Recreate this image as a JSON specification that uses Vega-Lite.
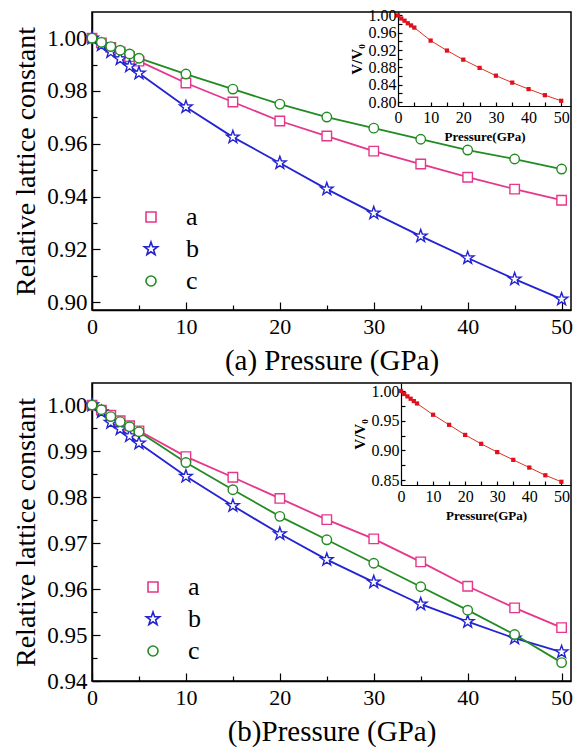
{
  "$schema": "https://vega.github.io/schema/vega-lite/v6.json",
  "padding": {"left": 11, "top": 6, "right": 0, "bottom": 0},
  "spacing": 6,
  "resolve": {"scale": {"stroke": "independent", "shape": "independent"}, "legend": {"stroke": "independent", "shape": "independent"}},
  "config": {
    "view": {"stroke": "black", "strokeWidth": 1.5},
    "font": "Liberation Serif, Times New Roman, serif",
    "legend": {"labelFont": "Liberation Serif, Times New Roman, serif"},
    "axis": {"grid": false, "domainColor": "black", "domainWidth": 1.5, "tickColor": "black", "tickWidth": 1.2, "labelColor": "black", "titleColor": "black", "labelFont": "Liberation Serif, Times New Roman, serif", "titleFont": "Liberation Serif, Times New Roman, serif", "titleFontWeight": "normal", "labelFlush": false, "labelOverlap": false}
  },
  "datasets": {
    "mainA": [
      {"p": 0, "s": "a", "v": 1.0}, {"p": 1, "s": "a", "v": 0.9982}, {"p": 2, "s": "a", "v": 0.9965}, {"p": 3, "s": "a", "v": 0.9948}, {"p": 4, "s": "a", "v": 0.993}, {"p": 5, "s": "a", "v": 0.9913}, {"p": 10, "s": "a", "v": 0.983}, {"p": 15, "s": "a", "v": 0.9758}, {"p": 20, "s": "a", "v": 0.9686}, {"p": 25, "s": "a", "v": 0.9629}, {"p": 30, "s": "a", "v": 0.9572}, {"p": 35, "s": "a", "v": 0.9523}, {"p": 40, "s": "a", "v": 0.9473}, {"p": 45, "s": "a", "v": 0.9428}, {"p": 50, "s": "a", "v": 0.9386},
      {"p": 0, "s": "b", "v": 1.0}, {"p": 1, "s": "b", "v": 0.9974}, {"p": 2, "s": "b", "v": 0.9948}, {"p": 3, "s": "b", "v": 0.9921}, {"p": 4, "s": "b", "v": 0.9894}, {"p": 5, "s": "b", "v": 0.9867}, {"p": 10, "s": "b", "v": 0.9739}, {"p": 15, "s": "b", "v": 0.9625}, {"p": 20, "s": "b", "v": 0.9527}, {"p": 25, "s": "b", "v": 0.9428}, {"p": 30, "s": "b", "v": 0.9337}, {"p": 35, "s": "b", "v": 0.925}, {"p": 40, "s": "b", "v": 0.9167}, {"p": 45, "s": "b", "v": 0.9087}, {"p": 50, "s": "b", "v": 0.9011},
      {"p": 0, "s": "c", "v": 1.0}, {"p": 1, "s": "c", "v": 0.9984}, {"p": 2, "s": "c", "v": 0.9968}, {"p": 3, "s": "c", "v": 0.9954}, {"p": 4, "s": "c", "v": 0.994}, {"p": 5, "s": "c", "v": 0.9924}, {"p": 10, "s": "c", "v": 0.9864}, {"p": 15, "s": "c", "v": 0.9807}, {"p": 20, "s": "c", "v": 0.975}, {"p": 25, "s": "c", "v": 0.9701}, {"p": 30, "s": "c", "v": 0.9659}, {"p": 35, "s": "c", "v": 0.9617}, {"p": 40, "s": "c", "v": 0.9576}, {"p": 45, "s": "c", "v": 0.9542}, {"p": 50, "s": "c", "v": 0.9504}
    ],
    "insetA": [
      {"p": 0, "v": 1.0}, {"p": 1, "v": 0.993}, {"p": 2, "v": 0.988}, {"p": 3, "v": 0.982}, {"p": 4, "v": 0.977}, {"p": 5, "v": 0.972}, {"p": 10, "v": 0.942}, {"p": 15, "v": 0.919}, {"p": 20, "v": 0.898}, {"p": 25, "v": 0.879}, {"p": 30, "v": 0.861}, {"p": 35, "v": 0.845}, {"p": 40, "v": 0.83}, {"p": 45, "v": 0.816}, {"p": 50, "v": 0.803}
    ],
    "mainB": [
      {"p": 0, "s": "a", "v": 1.0}, {"p": 1, "s": "a", "v": 0.9989}, {"p": 2, "s": "a", "v": 0.9978}, {"p": 3, "s": "a", "v": 0.9966}, {"p": 4, "s": "a", "v": 0.9955}, {"p": 5, "s": "a", "v": 0.9944}, {"p": 10, "s": "a", "v": 0.9888}, {"p": 15, "s": "a", "v": 0.9843}, {"p": 20, "s": "a", "v": 0.9797}, {"p": 25, "s": "a", "v": 0.9751}, {"p": 30, "s": "a", "v": 0.9709}, {"p": 35, "s": "a", "v": 0.9659}, {"p": 40, "s": "a", "v": 0.9606}, {"p": 45, "s": "a", "v": 0.9559}, {"p": 50, "s": "a", "v": 0.9516},
      {"p": 0, "s": "b", "v": 1.0}, {"p": 1, "s": "b", "v": 0.9985}, {"p": 2, "s": "b", "v": 0.9962}, {"p": 3, "s": "b", "v": 0.9948}, {"p": 4, "s": "b", "v": 0.9933}, {"p": 5, "s": "b", "v": 0.9917}, {"p": 10, "s": "b", "v": 0.9845}, {"p": 15, "s": "b", "v": 0.9781}, {"p": 20, "s": "b", "v": 0.972}, {"p": 25, "s": "b", "v": 0.9664}, {"p": 30, "s": "b", "v": 0.9615}, {"p": 35, "s": "b", "v": 0.9567}, {"p": 40, "s": "b", "v": 0.9529}, {"p": 45, "s": "b", "v": 0.9493}, {"p": 50, "s": "b", "v": 0.9463},
      {"p": 0, "s": "c", "v": 1.0}, {"p": 1, "s": "c", "v": 0.999}, {"p": 2, "s": "c", "v": 0.9975}, {"p": 3, "s": "c", "v": 0.9964}, {"p": 4, "s": "c", "v": 0.9953}, {"p": 5, "s": "c", "v": 0.9942}, {"p": 10, "s": "c", "v": 0.9875}, {"p": 15, "s": "c", "v": 0.9816}, {"p": 20, "s": "c", "v": 0.9758}, {"p": 25, "s": "c", "v": 0.9707}, {"p": 30, "s": "c", "v": 0.9656}, {"p": 35, "s": "c", "v": 0.9605}, {"p": 40, "s": "c", "v": 0.9554}, {"p": 45, "s": "c", "v": 0.9501}, {"p": 50, "s": "c", "v": 0.944}
    ],
    "insetB": [
      {"p": 0, "v": 1.0}, {"p": 1, "v": 0.995}, {"p": 2, "v": 0.991}, {"p": 3, "v": 0.987}, {"p": 4, "v": 0.983}, {"p": 5, "v": 0.979}, {"p": 10, "v": 0.96}, {"p": 15, "v": 0.943}, {"p": 20, "v": 0.926}, {"p": 25, "v": 0.911}, {"p": 30, "v": 0.897}, {"p": 35, "v": 0.884}, {"p": 40, "v": 0.871}, {"p": 45, "v": 0.858}, {"p": 50, "v": 0.847}
    ]
  },
  "vconcat": [
    {
      "width": 479,
      "height": 298,
      "layer": [
        {
          "data": {"name": "mainA"},
          "encoding": {
            "x": {"field": "p", "type": "quantitative", "scale": {"domain": [0, 51], "nice": false, "zero": false},
              "axis": {"values": [0, 5, 10, 15, 20, 25, 30, 35, 40, 45, 50], "labelExpr": "datum.value % 10 === 0 ? datum.label : ''", "tickSize": {"condition": {"test": "datum.value % 10 === 0", "value": -8}, "value": -5}, "labelPadding": 14, "labelFontSize": 22, "title": "(a) Pressure (GPa)", "titleFontSize": 29, "titlePadding": 6}},
            "y": {"field": "v", "type": "quantitative", "scale": {"domain": [0.897, 1.0099], "nice": false, "zero": false},
              "axis": {"values": [0.9, 0.91, 0.92, 0.93, 0.94, 0.95, 0.96, 0.97, 0.98, 0.99, 1.0], "labelExpr": "round(datum.value * 100) % 2 === 0 ? format(datum.value, '.2f') : ''", "tickSize": {"condition": {"test": "round(datum.value * 100) % 2 === 0", "value": -8}, "value": -5}, "labelPadding": 13, "labelFontSize": 23, "title": "Relative lattice constant", "titleFontSize": 28, "titlePadding": 6}}
          },
          "layer": [
            {"mark": {"type": "line", "strokeWidth": 1.8}, "encoding": {"stroke": {"field": "s", "type": "nominal", "scale": {"domain": ["a", "b", "c"], "range": ["#e5378c", "#2323d2", "#238b23"]}}}},
            {"mark": {"type": "point", "size": 90, "fill": "white", "fillOpacity": 1, "strokeWidth": 1.4, "opacity": 1},
              "encoding": {
                "stroke": {"field": "s", "type": "nominal", "scale": {"domain": ["a", "b", "c"], "range": ["#e5378c", "#2323d2", "#238b23"]},
                  "legend": {"title": null, "orient": "none", "legendX": 46, "legendY": 192, "padding": 0, "labelFont": "Liberation Serif, Times New Roman, serif", "labelFontSize": 26, "labelColor": "black", "labelOffset": 22, "rowPadding": 6, "symbolStrokeWidth": 1.6, "symbolFillColor": "white"}},
                "shape": {"field": "s", "type": "nominal", "scale": {"domain": ["a", "b", "c"], "range": ["M-1,-1H1V1H-1Z", "M0,-1.4L0.33,-0.45L1.33,-0.43L0.53,0.17L0.82,1.13L0,0.56L-0.82,1.13L-0.53,0.17L-1.33,-0.43L-0.33,-0.45Z", "circle"]}}
              }}
          ]
        },
        {
          "data": {"name": "insetA"},
          "encoding": {
            "x": {"field": "p", "type": "quantitative", "scale": {"domain": [0, 53], "range": [306, 479], "nice": false, "zero": false},
              "axis": {"orient": "bottom", "offset": -204, "values": [0, 5, 10, 15, 20, 25, 30, 35, 40, 45, 50], "labelExpr": "datum.value % 10 === 0 ? datum.label : ''", "tickSize": -4, "labelPadding": 7, "labelFontSize": 16, "domainWidth": 1.2, "title": "Pressure(GPa)", "titleFontSize": 13, "titleFontWeight": "bold", "titlePadding": 5}},
            "y": {"field": "v", "type": "quantitative", "scale": {"domain": [0.791, 1.008], "range": [94, 0], "nice": false, "zero": false},
              "axis": {"orient": "left", "offset": -306, "values": [0.8, 0.82, 0.84, 0.86, 0.88, 0.9, 0.92, 0.94, 0.96, 0.98, 1.0], "labelExpr": "round(datum.value * 100) % 4 === 0 ? format(datum.value, '.2f') : ''", "tickSize": -4, "labelPadding": 6, "labelFontSize": 16, "domainWidth": 1.2, "title": "V/V₀", "titleFontSize": 15, "titleFontWeight": "bold", "titlePadding": 4}}
          },
          "layer": [
            {"mark": {"type": "line", "color": "#e0301e", "strokeWidth": 1}},
            {"mark": {"type": "square", "color": "#e0101e", "size": 18, "opacity": 1}}
          ]
        }
      ],
      "resolve": {"scale": {"x": "independent", "y": "independent"}}
    },
    {
      "width": 479,
      "height": 298,
      "layer": [
        {
          "data": {"name": "mainB"},
          "encoding": {
            "x": {"field": "p", "type": "quantitative", "scale": {"domain": [0, 51], "nice": false, "zero": false},
              "axis": {"values": [0, 5, 10, 15, 20, 25, 30, 35, 40, 45, 50], "labelExpr": "datum.value % 10 === 0 ? datum.label : ''", "tickSize": {"condition": {"test": "datum.value % 10 === 0", "value": -8}, "value": -5}, "labelPadding": 14, "labelFontSize": 22, "title": "(b)Pressure (GPa)", "titleFontSize": 29, "titlePadding": 6}},
            "y": {"field": "v", "type": "quantitative", "scale": {"domain": [0.94, 1.0048], "nice": false, "zero": false},
              "axis": {"values": [0.94, 0.945, 0.95, 0.955, 0.96, 0.965, 0.97, 0.975, 0.98, 0.985, 0.99, 0.995, 1.0], "labelExpr": "round(datum.value * 1000) % 10 === 0 ? format(datum.value, '.2f') : ''", "tickSize": {"condition": {"test": "round(datum.value * 1000) % 10 === 0", "value": -8}, "value": -5}, "labelPadding": 13, "labelFontSize": 23, "title": "Relative lattice constant", "titleFontSize": 28, "titlePadding": 6}}
          },
          "layer": [
            {"mark": {"type": "line", "strokeWidth": 1.8}, "encoding": {"stroke": {"field": "s", "type": "nominal", "scale": {"domain": ["a", "b", "c"], "range": ["#e5378c", "#2323d2", "#238b23"]}}}},
            {"mark": {"type": "point", "size": 90, "fill": "white", "fillOpacity": 1, "strokeWidth": 1.4, "opacity": 1},
              "encoding": {
                "stroke": {"field": "s", "type": "nominal", "scale": {"domain": ["a", "b", "c"], "range": ["#e5378c", "#2323d2", "#238b23"]},
                  "legend": {"title": null, "orient": "none", "legendX": 48, "legendY": 191, "padding": 0, "labelFont": "Liberation Serif, Times New Roman, serif", "labelFontSize": 26, "labelColor": "black", "labelOffset": 22, "rowPadding": 6, "symbolStrokeWidth": 1.6, "symbolFillColor": "white"}},
                "shape": {"field": "s", "type": "nominal", "scale": {"domain": ["a", "b", "c"], "range": ["M-1,-1H1V1H-1Z", "M0,-1.4L0.33,-0.45L1.33,-0.43L0.53,0.17L0.82,1.13L0,0.56L-0.82,1.13L-0.53,0.17L-1.33,-0.43L-0.33,-0.45Z", "circle"]}}
              }}
          ]
        },
        {
          "data": {"name": "insetB"},
          "encoding": {
            "x": {"field": "p", "type": "quantitative", "scale": {"domain": [0, 53], "range": [309, 479], "nice": false, "zero": false},
              "axis": {"orient": "bottom", "offset": -196, "values": [0, 5, 10, 15, 20, 25, 30, 35, 40, 45, 50], "labelExpr": "datum.value % 10 === 0 ? datum.label : ''", "tickSize": -4, "labelPadding": 7, "labelFontSize": 16, "domainWidth": 1.2, "title": "Pressure(GPa)", "titleFontSize": 13, "titleFontWeight": "bold", "titlePadding": 5}},
            "y": {"field": "v", "type": "quantitative", "scale": {"domain": [0.8416, 1.0135], "range": [102, 0], "nice": false, "zero": false},
              "axis": {"orient": "left", "offset": -309, "values": [0.85, 0.875, 0.9, 0.925, 0.95, 0.975, 1.0], "labelExpr": "round(datum.value * 1000) % 50 === 0 ? format(datum.value, '.2f') : ''", "tickSize": -4, "labelPadding": 6, "labelFontSize": 16, "domainWidth": 1.2, "title": "V/V₀", "titleFontSize": 15, "titleFontWeight": "bold", "titlePadding": 4}}
          },
          "layer": [
            {"mark": {"type": "line", "color": "#e0301e", "strokeWidth": 1}},
            {"mark": {"type": "square", "color": "#e0101e", "size": 18, "opacity": 1}}
          ]
        }
      ],
      "resolve": {"scale": {"x": "independent", "y": "independent"}}
    }
  ]
}
